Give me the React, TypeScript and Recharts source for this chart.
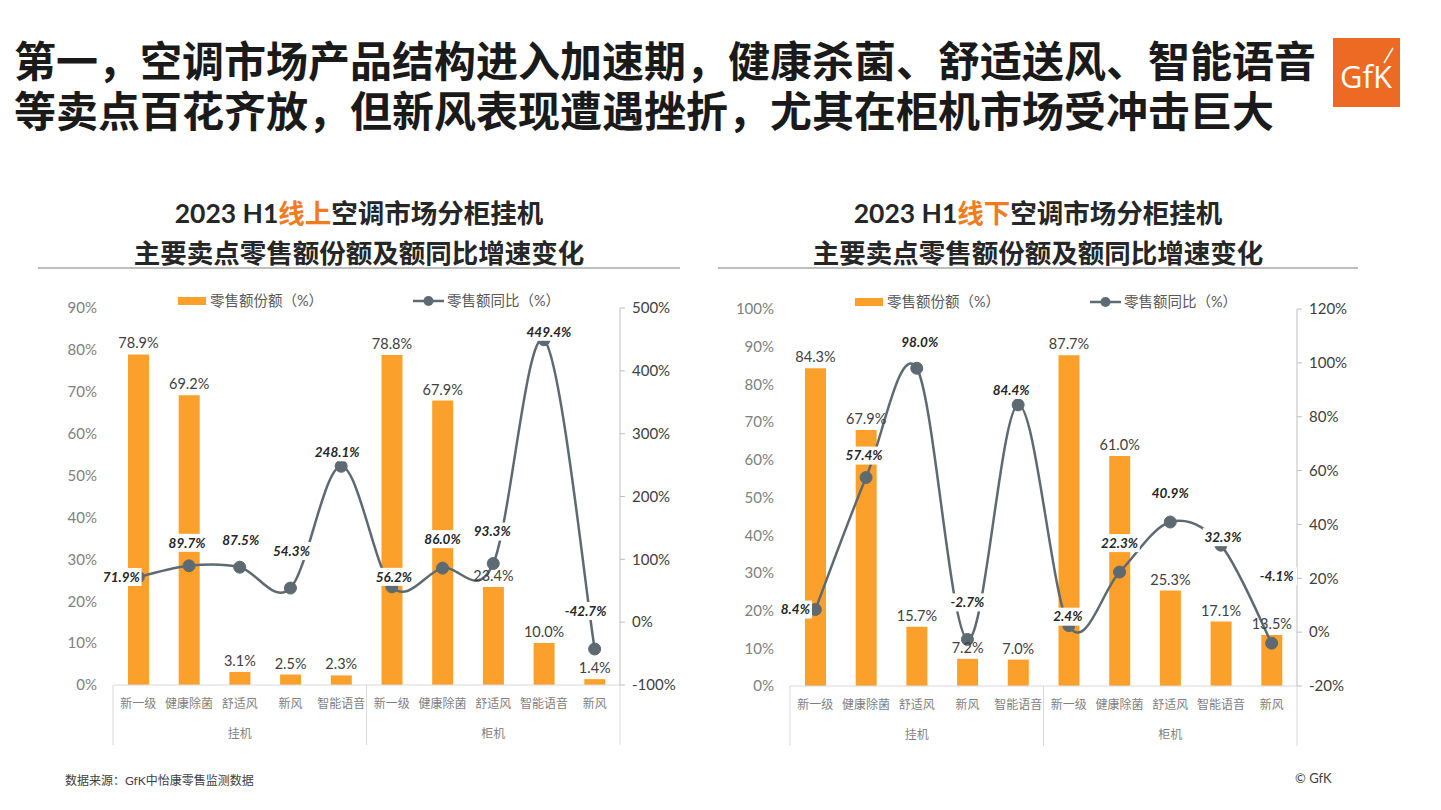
import React from "react";
import { ComposedChart, Bar, Line, XAxis, YAxis, Legend, LabelList } from "recharts";

// categories (two groups of five)
const categories = ["新一级", "健康除菌", "舒适风", "新风", "智能语音", "新一级", "健康除菌", "舒适风", "智能语音", "新风"];
const groups = ["挂机", "柜机"];

// online (线上)
const onlineShare = [78.9, 69.2, 3.1, 2.5, 2.3, 78.8, 67.9, 23.4, 10.0, 1.4];
const onlineYoY = [71.9, 89.7, 87.5, 54.3, 248.1, 56.2, 86.0, 93.3, 449.4, -42.7];
const onlineShareTicks = [0, 10, 20, 30, 40, 50, 60, 70, 80, 90];
const onlineYoYTicks = [-100, 0, 100, 200, 300, 400, 500];

// offline (线下)
const offlineShare = [84.3, 67.9, 15.7, 7.2, 7.0, 87.7, 61.0, 25.3, 17.1, 13.5];
const offlineYoY = [8.4, 57.4, 98.0, -2.7, 84.4, 2.4, 22.3, 40.9, 32.3, -4.1];
const offlineShareTicks = [0, 10, 20, 30, 40, 50, 60, 70, 80, 90, 100];
const offlineYoYTicks = [-20, 0, 20, 40, 60, 80, 100, 120];

// where each yoy label sits relative to its point (dx, dy)
const onlineLabelOffsets = [[-17, 0], [-2, -23], [1, -27], [1, -37], [-4, -14], [2, -10], [0, -29], [-1, -32], [5, -8], [-9, -38]];
const offlineLabelOffsets = [[-20, 0], [-2, -22], [3, -26], [0, -37], [-7, -15], [-1, -9], [0, -29], [0, -29], [2, -8], [5, -67]];

const FONT = "Lato, 'Noto Sans CJK SC', sans-serif";
const BAR = "#FBA12B";
const LINE = "#5E6A72";
const W = 647;
const H = 460;
const PLOT_W = 507;

// excel-like smoothed line (catmull-rom)
function excelSmooth(context: any) {
  let pts: number[][] = [];
  return {
    areaStart() {},
    areaEnd() {},
    lineStart() { pts = []; },
    point(x: number, y: number) { pts.push([+x, +y]); },
    lineEnd() {
      const n = pts.length;
      if (!n) return;
      context.moveTo(pts[0][0], pts[0][1]);
      for (let i = 0; i < n - 1; i++) {
        const p0 = pts[Math.max(i - 1, 0)];
        const p1 = pts[i];
        const p2 = pts[i + 1];
        const p3 = pts[Math.min(i + 2, n - 1)];
        context.bezierCurveTo(
          p1[0] + (p2[0] - p0[0]) / 6, p1[1] + (p2[1] - p0[1]) / 6,
          p2[0] - (p3[0] - p1[0]) / 6, p2[1] - (p3[1] - p1[1]) / 6,
          p2[0], p2[1]
        );
      }
    },
  };
}

const CategoryTick = (props: any) => {
  const { x, y, index, payload } = props;
  const band = PLOT_W / categories.length;
  const left = x - band / 2;
  return (
    <g>
      <text x={x} y={y + 23} textAnchor="middle" fill="#7f7f7f" fontSize={12} fontFamily={FONT}>{payload.value}</text>
      {index % 5 === 0 && (
        <>
          <line x1={left} x2={left} y1={y} y2={y + 60} stroke="#d9d9d9" />
          <text x={left + band * 2.5} y={y + 53} textAnchor="middle" fill="#7f7f7f" fontSize={12} fontFamily={FONT}>{groups[index / 5]}</text>
        </>
      )}
      {index === categories.length - 1 && (
        <line x1={x + band / 2} x2={x + band / 2} y1={y} y2={y + 60} stroke="#d9d9d9" />
      )}
    </g>
  );
};

const makeLineLabel = (offsets: number[][]) => (props: any) => {
  const { x, y, value, index } = props;
  const [dx, dy] = offsets[index];
  const text = `${Number(value).toFixed(1)}%`;
  const w = text.length * 7.3 + 4;
  return (
    <g>
      <rect x={x + dx - w / 2} y={y + dy - 9} width={w} height={18} fill="#fff" />
      <text x={x + dx} y={y + dy} dy="0.35em" textAnchor="middle" fontStyle="italic" fontWeight={700}
        fontSize={13.5} fill="#262626" fontFamily={FONT}>{text}</text>
    </g>
  );
};

const LegendContent = () => (
  <div style={{ position: "relative", height: 20, fontSize: 14.5, color: "#595959", fontFamily: FONT }}>
    <div style={{ position: "absolute", left: 145, top: 7, width: 28, height: 8, background: BAR }} />
    <span style={{ position: "absolute", left: 177, top: 1, lineHeight: "20px" }}>零售额份额（%）</span>
    <svg style={{ position: "absolute", left: 380, top: 1 }} width={31} height={20}>
      <line x1={0} x2={31} y1={10} y2={10} stroke={LINE} strokeWidth={2.5} />
      <circle cx={15.5} cy={10} r={5} fill={LINE} />
    </svg>
    <span style={{ position: "absolute", left: 414, top: 1, lineHeight: "20px" }}>零售额同比（%）</span>
  </div>
);

function Panel({ share, yoy, shareTicks, yoyTicks, offsets }: any) {
  const data = categories.map((name, i) => ({ name, share: share[i], yoy: yoy[i] }));
  return (
    <ComposedChart width={W} height={H} data={data} margin={{ top: 18, right: 10, bottom: 0, left: 0 }}>
      <Legend verticalAlign="middle" align="center" content={LegendContent}
        wrapperStyle={{ top: 0, left: 0, width: W, height: 22 }} />
      <XAxis dataKey="name" interval={0} tickLine={false} tickSize={0} tickMargin={0} height={65}
        axisLine={{ stroke: "#d9d9d9" }} tick={<CategoryTick />} />
      <YAxis yAxisId="l" width={80} domain={[shareTicks[0], shareTicks[shareTicks.length - 1]]} ticks={shareTicks}
        axisLine={false} tickLine={false} tickSize={0} tickMargin={16} interval={0}
        tick={{ fill: "#808080", fontSize: 15, fontFamily: FONT }} tickFormatter={(v: number) => `${v}%`} />
      <YAxis yAxisId="r" orientation="right" width={50} domain={[yoyTicks[0], yoyTicks[yoyTicks.length - 1]]} ticks={yoyTicks}
        axisLine={{ stroke: "#bfbfbf" }} tickLine={{ stroke: "#bfbfbf" }} tickSize={5} tickMargin={7} interval={0}
        tick={{ fill: "#404040", fontSize: 15, fontFamily: FONT }} tickFormatter={(v: number) => `${v}%`} />
      <Bar yAxisId="l" dataKey="share" fill={BAR} barSize={21} isAnimationActive={false}>
        <LabelList dataKey="share" position="top" offset={6} fill="#404040" fontSize={14.5} fontFamily={FONT}
          formatter={(v: any) => `${Number(v).toFixed(1)}%`} />
      </Bar>
      <Line yAxisId="r" dataKey="yoy" type={excelSmooth as any} stroke={LINE} strokeWidth={2.5}
        dot={{ r: 6, fill: LINE, stroke: LINE, strokeWidth: 1 }} activeDot={false} isAnimationActive={false}>
        <LabelList dataKey="yoy" content={makeLineLabel(offsets)} />
      </Line>
    </ComposedChart>
  );
}

const chartTitle = (key: string) => (
  <>
    <div style={{ lineHeight: "40px" }}>
      2023 H1<span style={{ color: "#F07C1E" }}>{key}</span>空调市场分柜挂机
    </div>
    <div style={{ lineHeight: "40px" }}>主要卖点零售额份额及额同比增速变化</div>
  </>
);

export default function App() {
  return (
    <div style={{ position: "absolute", left: 0, top: 0, width: 1441, height: 810, background: "#fff", overflow: "hidden", fontFamily: FONT }}>
      <div style={{ position: "absolute", left: 14, top: 34, fontFamily: "'Noto Sans CJK SC', sans-serif", fontWeight: 700,
        fontSize: 42, lineHeight: "50px", color: "#1a1a1a", whiteSpace: "nowrap" }}>
        <div>第一，空调市场产品结构进入加速期，健康杀菌、舒适送风、智能语音</div>
        <div>等卖点百花齐放，但新风表现遭遇挫折，尤其在柜机市场受冲击巨大</div>
      </div>

      <div style={{ position: "absolute", left: 1333, top: 38, width: 67, height: 69, background: "#EC6A24" }}>
        <svg width={67} height={69}>
          <text x={33} y={50} textAnchor="middle" fill="#fff" fontSize={31} fontFamily="'Open Sans', sans-serif">GfK</text>
          <line x1={51} y1={25} x2={60} y2={10} stroke="#fff" strokeWidth={1.5} />
        </svg>
      </div>

      <div style={{ position: "absolute", left: 38, top: 193, width: 642, textAlign: "center", fontSize: 26.5, fontWeight: 700, color: "#262626" }}>
        {chartTitle("线上")}
      </div>
      <div style={{ position: "absolute", left: 38, top: 267, width: 642, height: 2, background: "#bfbfbf" }} />
      <div style={{ position: "absolute", left: 718, top: 193, width: 640, textAlign: "center", fontSize: 26.5, fontWeight: 700, color: "#262626" }}>
        {chartTitle("线下")}
      </div>
      <div style={{ position: "absolute", left: 718, top: 267, width: 640, height: 2, background: "#bfbfbf" }} />

      <div style={{ position: "absolute", left: 33, top: 290 }}>
        <Panel share={onlineShare} yoy={onlineYoY} shareTicks={onlineShareTicks} yoyTicks={onlineYoYTicks} offsets={onlineLabelOffsets} />
      </div>
      <div style={{ position: "absolute", left: 710, top: 291 }}>
        <Panel share={offlineShare} yoy={offlineYoY} shareTicks={offlineShareTicks} yoyTicks={offlineYoYTicks} offsets={offlineLabelOffsets} />
      </div>

      <div style={{ position: "absolute", left: 65, top: 771, fontSize: 12, color: "#404040" }}>数据来源：GfK中怡康零售监测数据</div>
      <div style={{ position: "absolute", left: 1295, top: 770, fontSize: 13, color: "#404040" }}>© GfK</div>
    </div>
  );
}
